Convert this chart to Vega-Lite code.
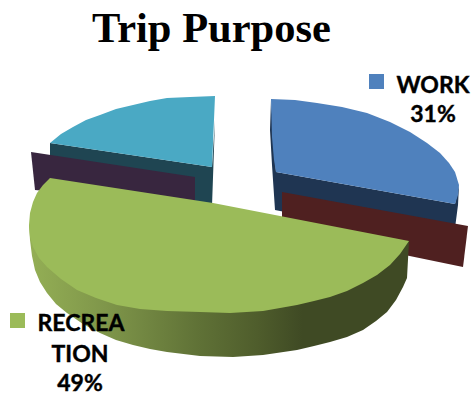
{
  "$schema": "https://vega.github.io/schema/vega-lite/v6.json",
  "width": 471,
  "height": 396,
  "padding": 0,
  "autosize": {"type": "none"},
  "background": "white",
  "view": {"stroke": null},
  "title": {"text": "Trip Purpose", "font": "Liberation Serif", "fontSize": 42.5, "fontWeight": "bold", "color": "#000000", "anchor": "start", "baseline": "alphabetic", "offset": 0, "dx": 92, "dy": 84},
  "datasets": {
    "outlines": [
      {"shape":"workSide","i":0,"x":271,"y":100},{"shape":"workSide","i":1,"x":270,"y":130},{"shape":"workSide","i":2,"x":272,"y":165},{"shape":"workSide","i":3,"x":275,"y":210},{"shape":"workSide","i":4,"x":290,"y":213},{"shape":"workSide","i":5,"x":455,"y":228},{"shape":"workSide","i":6,"x":458,"y":205},{"shape":"workSide","i":7,"x":459,"y":185},{"shape":"workSide","i":8,"x":455,"y":204},{"shape":"workSide","i":9,"x":276,"y":172},
      {"shape":"work","i":0,"x":271,"y":99},{"shape":"work","i":1,"x":295,"y":100},{"shape":"work","i":2,"x":317,"y":103},{"shape":"work","i":3,"x":342,"y":107},{"shape":"work","i":4,"x":367,"y":113},{"shape":"work","i":5,"x":390,"y":122},{"shape":"work","i":6,"x":410,"y":132},{"shape":"work","i":7,"x":427,"y":143},{"shape":"work","i":8,"x":440,"y":153},{"shape":"work","i":9,"x":449,"y":163},{"shape":"work","i":10,"x":455,"y":172},{"shape":"work","i":11,"x":459,"y":185},{"shape":"work","i":12,"x":458,"y":195},{"shape":"work","i":13,"x":455,"y":204},{"shape":"work","i":14,"x":276,"y":172},{"shape":"work","i":15,"x":274,"y":160},{"shape":"work","i":16,"x":272,"y":137},
      {"shape":"maroon","i":0,"x":282,"y":192},{"shape":"maroon","i":1,"x":468,"y":226},{"shape":"maroon","i":2,"x":463,"y":267},{"shape":"maroon","i":3,"x":400,"y":254},{"shape":"maroon","i":4,"x":282,"y":226},
      {"shape":"tealSide","i":0,"x":50,"y":143},{"shape":"tealSide","i":1,"x":212,"y":167},{"shape":"tealSide","i":2,"x":215,"y":120},{"shape":"tealSide","i":3,"x":212,"y":206},{"shape":"tealSide","i":4,"x":50,"y":185},
      {"shape":"teal","i":0,"x":215,"y":96},{"shape":"teal","i":1,"x":190,"y":97},{"shape":"teal","i":2,"x":167,"y":98},{"shape":"teal","i":3,"x":150,"y":101},{"shape":"teal","i":4,"x":133,"y":105},{"shape":"teal","i":5,"x":116,"y":109},{"shape":"teal","i":6,"x":100,"y":115},{"shape":"teal","i":7,"x":86,"y":120},{"shape":"teal","i":8,"x":73,"y":127},{"shape":"teal","i":9,"x":61,"y":134},{"shape":"teal","i":10,"x":50,"y":143},{"shape":"teal","i":11,"x":212,"y":167},
      {"shape":"purple","i":0,"x":31,"y":152},{"shape":"purple","i":1,"x":195,"y":177},{"shape":"purple","i":2,"x":195,"y":206},{"shape":"purple","i":3,"x":35,"y":190},
      {"shape":"greenSide","i":0,"x":29,"y":225},{"shape":"greenSide","i":1,"x":30,"y":240},{"shape":"greenSide","i":2,"x":32,"y":256},{"shape":"greenSide","i":3,"x":35,"y":270},{"shape":"greenSide","i":4,"x":40,"y":282},{"shape":"greenSide","i":5,"x":47,"y":293},{"shape":"greenSide","i":6,"x":56,"y":304},{"shape":"greenSide","i":7,"x":67,"y":313},{"shape":"greenSide","i":8,"x":83,"y":324},{"shape":"greenSide","i":9,"x":100,"y":333},{"shape":"greenSide","i":10,"x":116,"y":340},{"shape":"greenSide","i":11,"x":133,"y":345},{"shape":"greenSide","i":12,"x":150,"y":349},{"shape":"greenSide","i":13,"x":167,"y":352},{"shape":"greenSide","i":14,"x":200,"y":356},{"shape":"greenSide","i":15,"x":233,"y":357},{"shape":"greenSide","i":16,"x":263,"y":355},{"shape":"greenSide","i":17,"x":297,"y":350},{"shape":"greenSide","i":18,"x":314,"y":346},{"shape":"greenSide","i":19,"x":330,"y":342},{"shape":"greenSide","i":20,"x":347,"y":337},{"shape":"greenSide","i":21,"x":363,"y":330},{"shape":"greenSide","i":22,"x":376,"y":321},{"shape":"greenSide","i":23,"x":387,"y":312},{"shape":"greenSide","i":24,"x":396,"y":300},{"shape":"greenSide","i":25,"x":403,"y":287},{"shape":"greenSide","i":26,"x":407,"y":278},{"shape":"greenSide","i":27,"x":409,"y":241},{"shape":"greenSide","i":28,"x":230,"y":250},
      {"shape":"recreation","i":0,"x":50,"y":178},{"shape":"recreation","i":1,"x":43,"y":185},{"shape":"recreation","i":2,"x":37,"y":193},{"shape":"recreation","i":3,"x":33,"y":202},{"shape":"recreation","i":4,"x":30,"y":213},{"shape":"recreation","i":5,"x":29,"y":225},{"shape":"recreation","i":6,"x":30,"y":237},{"shape":"recreation","i":7,"x":33,"y":247},{"shape":"recreation","i":8,"x":39,"y":258},{"shape":"recreation","i":9,"x":47,"y":267},{"shape":"recreation","i":10,"x":61,"y":279},{"shape":"recreation","i":11,"x":77,"y":290},{"shape":"recreation","i":12,"x":96,"y":298},{"shape":"recreation","i":13,"x":117,"y":305},{"shape":"recreation","i":14,"x":140,"y":309},{"shape":"recreation","i":15,"x":167,"y":311},{"shape":"recreation","i":16,"x":200,"y":312},{"shape":"recreation","i":17,"x":230,"y":313},{"shape":"recreation","i":18,"x":263,"y":311},{"shape":"recreation","i":19,"x":297,"y":305},{"shape":"recreation","i":20,"x":314,"y":301},{"shape":"recreation","i":21,"x":330,"y":297},{"shape":"recreation","i":22,"x":347,"y":291},{"shape":"recreation","i":23,"x":363,"y":283},{"shape":"recreation","i":24,"x":377,"y":275},{"shape":"recreation","i":25,"x":390,"y":265},{"shape":"recreation","i":26,"x":400,"y":254},{"shape":"recreation","i":27,"x":409,"y":241},{"shape":"recreation","i":28,"x":213,"y":203}
    ],
    "labels": [
      {"text":"WORK","x":433,"y":93},
      {"text":"31%","x":433,"y":122},
      {"text":"RECREA","x":81,"y":331},
      {"text":"TION","x":80,"y":362},
      {"text":"49%","x":80,"y":391}
    ],
    "keys": [
      {"name":"WORK","x":376.5,"y":81.5},
      {"name":"RECREATION","x":17.5,"y":320.5}
    ]
  },
  "encoding": {
    "x": {"field": "x", "type": "quantitative", "axis": null, "scale": {"domain": [0, 471], "range": [0, 471], "nice": false, "zero": false}},
    "y": {"field": "y", "type": "quantitative", "axis": null, "scale": {"domain": [396, 0], "range": [396, 0], "nice": false, "zero": false}}
  },
  "layer": [
    {"data": {"name": "outlines"}, "transform": [{"filter": "datum.shape === 'workSide'"}], "mark": {"type": "line", "fill": "#1F3552", "strokeWidth": 0}, "encoding": {"order": {"field": "i"}}},
    {"data": {"name": "outlines"}, "transform": [{"filter": "datum.shape === 'maroon'"}], "mark": {"type": "line", "fill": "#4F2020", "strokeWidth": 0}, "encoding": {"order": {"field": "i"}}},
    {"data": {"name": "outlines"}, "transform": [{"filter": "datum.shape === 'work'"}], "mark": {"type": "line", "fill": "#4F81BD", "strokeWidth": 0}, "encoding": {"order": {"field": "i"}}},
    {"data": {"name": "outlines"}, "transform": [{"filter": "datum.shape === 'tealSide'"}], "mark": {"type": "line", "fill": "#1F4552", "strokeWidth": 0}, "encoding": {"order": {"field": "i"}}},
    {"data": {"name": "outlines"}, "transform": [{"filter": "datum.shape === 'teal'"}], "mark": {"type": "line", "fill": "#4AA9C4", "strokeWidth": 0}, "encoding": {"order": {"field": "i"}}},
    {"data": {"name": "outlines"}, "transform": [{"filter": "datum.shape === 'purple'"}], "mark": {"type": "line", "fill": "#38263F", "strokeWidth": 0}, "encoding": {"order": {"field": "i"}}},
    {"data": {"name": "outlines"}, "transform": [{"filter": "datum.shape === 'greenSide'"}], "mark": {"type": "line", "strokeWidth": 0, "fill": {"gradient": "linear", "x1": 0, "x2": 1, "y1": 0, "y2": 0, "stops": [{"offset": 0, "color": "#94AF55"}, {"offset": 0.2, "color": "#7F964A"}, {"offset": 0.45, "color": "#5F7136"}, {"offset": 0.6, "color": "#4F5D2C"}, {"offset": 0.72, "color": "#3F4A24"}, {"offset": 1, "color": "#3F4A24"}]}}, "encoding": {"order": {"field": "i"}}},
    {"data": {"name": "outlines"}, "transform": [{"filter": "datum.shape === 'recreation'"}], "mark": {"type": "line", "fill": "#9BBB59", "strokeWidth": 0}, "encoding": {"order": {"field": "i"}}},
    {"data": {"name": "keys"}, "mark": {"type": "point", "shape": "square", "filled": true, "size": 225, "opacity": 1}, "encoding": {"fill": {"field": "name", "type": "nominal", "legend": null, "scale": {"domain": ["WORK", "RECREATION"], "range": ["#4F81BD", "#9BBB59"]}}}},
    {"data": {"name": "labels"}, "mark": {"type": "text", "font": "Lato", "fontWeight": "bold", "fontSize": 23, "align": "center", "baseline": "alphabetic", "color": "#000000", "stroke": "#000000", "strokeWidth": 0.4}, "encoding": {"text": {"field": "text"}}}
  ]
}
